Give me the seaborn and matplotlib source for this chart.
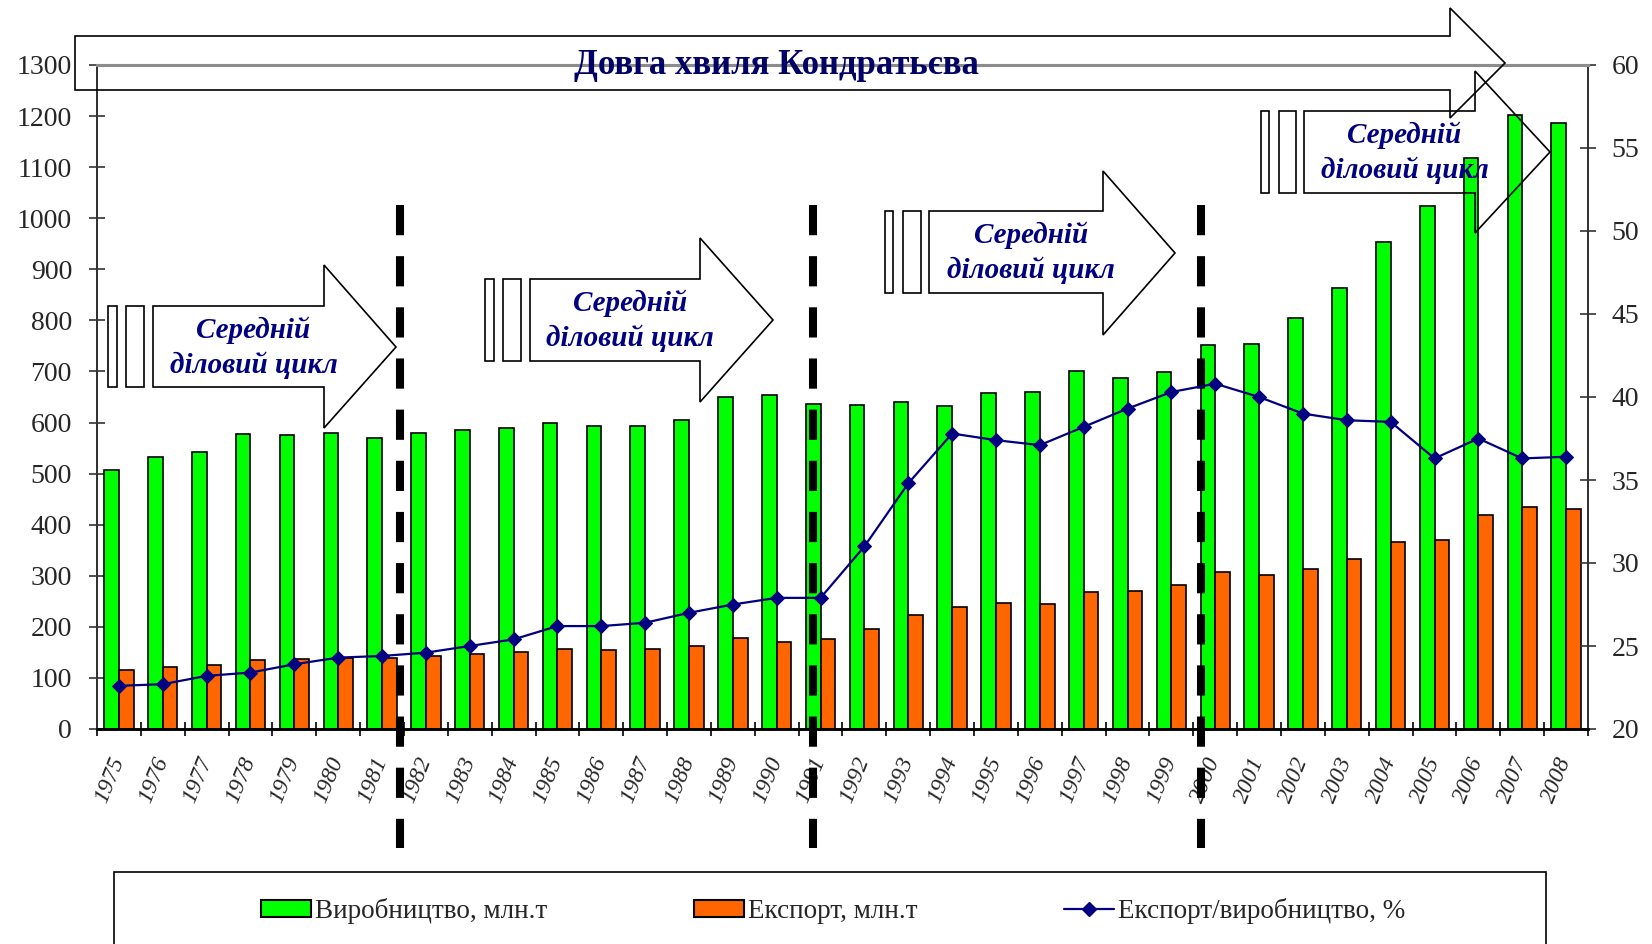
import numpy as np
import pandas as pd
import seaborn as sns
import matplotlib.pyplot as plt
from matplotlib.patches import Polygon, Rectangle, Patch
from matplotlib.lines import Line2D
from matplotlib.transforms import blended_transform_factory

sns.set_theme(style="white")
plt.rcParams['font.family'] = ['Liberation Serif', 'DejaVu Serif']

years = list(range(1975, 2009))
production = [507, 533, 542, 578, 576, 579, 569, 579, 585, 590,
              599, 593, 593, 605, 650, 654, 636, 634, 640, 632,
              658, 660, 701, 687, 698, 752, 754, 805, 864, 954,
              1024, 1118, 1202, 1186]
export = [115, 121, 126, 136, 138, 139, 139, 142, 147, 150,
          157, 155, 156, 163, 178, 171, 177, 196, 223, 239,
          246, 245, 268, 270, 281, 307, 301, 313, 333, 366,
          371, 418, 435, 431]
ratio = [22.6, 22.7, 23.2, 23.4, 23.9, 24.3, 24.4, 24.6, 25.0, 25.4,
         26.2, 26.2, 26.4, 27.0, 27.5, 27.9, 27.9, 31.0, 34.8, 37.8,
         37.4, 37.1, 38.2, 39.3, 40.3, 40.8, 40.0, 39.0, 38.6, 38.5,
         36.3, 37.5, 36.3, 36.4]

lbl_prod = 'Виробництво, млн.т'
lbl_exp = 'Експорт, млн.т'
lbl_ratio = 'Експорт/виробництво, %'
title = 'Довга хвиля Кондратьєва'
cycle_text = 'Середній\nділовий цикл'

green = '#00ff00'
orange = '#ff6600'
navy = '#000080'

# figure is laid out in pixels of the 1652x944 reference
W, H = 1652, 944


def fx(x):
    return x / W


def fy(y):
    return 1 - y / H


fig = plt.figure(figsize=(W / 100, H / 100), dpi=100)
ax = fig.add_axes([fx(97), fy(729), (1588 - 97) / W, (729 - 65) / H])

df = pd.DataFrame({'year': years * 2,
                   'value': production + export,
                   'series': [lbl_prod] * len(years) + [lbl_exp] * len(years)})
sns.barplot(data=df, x='year', y='value', hue='series', palette=[green, orange],
            saturation=1, width=0.67, gap=0, edgecolor='black', linewidth=1.2,
            legend=False, ax=ax)

ax2 = ax.twinx()
sns.lineplot(x=np.arange(len(years)), y=ratio, ax=ax2, color=navy, linewidth=1.6,
             marker='D', markersize=7, markeredgecolor=navy)

ax.set_xlim(-0.5, len(years) - 0.5)
ax.set_ylim(0, 1300)
ax.set_yticks(range(0, 1301, 100))
ax2.set_ylim(20, 60)
ax2.set_yticks(range(20, 61, 5))
for a in (ax, ax2):
    a.set_xlabel('')
    a.set_ylabel('')
    a.grid(False)
    a.spines['top'].set_color('#8c8c8c')
    a.spines['top'].set_linewidth(2.2)
    a.spines['left'].set_color('#333333')
    a.spines['right'].set_color('#333333')
    a.spines['left'].set_linewidth(1.4)
    a.spines['right'].set_linewidth(1.4)
    a.spines['bottom'].set_color('black')
    a.spines['bottom'].set_linewidth(1.8)

# tick marks between years, labels (minor ticks) next to them
ax.set_xticks(np.arange(-0.5, len(years), 1))
ax.set_xticklabels([])
ax.set_xticks(np.arange(len(years)) + 0.11, minor=True)
ax.set_xticklabels(years, minor=True, rotation=68, rotation_mode='anchor',
                   ha='right', va='baseline', fontstyle='italic', fontsize=17)
ax.tick_params(axis='x', which='major', direction='inout', length=10, width=1.2,
               color='black', bottom=True)
ax.tick_params(axis='x', which='minor', length=0, pad=22.5, bottom=True)
ax.tick_params(axis='y', direction='inout', length=12, width=1.2, color='#333333',
               labelsize=20, pad=12, left=True)
ax2.tick_params(axis='y', direction='inout', length=11, width=1.2, color='#333333',
                labelsize=20, pad=11.5, right=True)

# cycle borders
trans = blended_transform_factory(ax.transData, ax.transAxes)
for xb in [6.41, 15.83, 24.68]:
    ax.plot([xb, xb], [0.789, -0.179], transform=trans, color='black', lw=5.8,
            linestyle=(0, (3.75, 2.6)), clip_on=False, zorder=5)


def arrow(x0, xb, y0, y1, ht, hb, tip):
    pts = [(x0, y0), (xb, y0), (xb, ht), tip, (xb, hb), (xb, y1), (x0, y1)]
    fig.add_artist(Polygon([(fx(x), fy(y)) for x, y in pts], closed=True,
                           transform=fig.transFigure, fill=False,
                           edgecolor='black', lw=1.2))


def bars(xs, y0, y1):
    for a, b in xs:
        fig.add_artist(Rectangle((fx(a), fy(y1)), (b - a) / W, (y1 - y0) / H,
                                 transform=fig.transFigure, fill=False,
                                 edgecolor='black', lw=1.2))


# long wave arrow
arrow(75, 1450, 36, 90, 8, 118, (1505, 63))
fig.text(fx(776), fy(66), title, ha='center', va='center', fontsize=25,
         fontweight='bold', color='#000066')

# medium cycle arrows
cycles = [
    ((108, 117), (126, 144), 153, 324, 306, 387, 265, 428, (396, 347)),
    ((485, 494), (503, 521), 530, 700, 279, 361, 238, 402, (773, 320)),
    ((885, 893), (903, 921), 929, 1103, 211, 293, 171, 335, (1175, 253)),
    ((1261, 1269), (1279, 1296), 1304, 1475, 111, 193, 71, 233, (1550, 152)),
]
for r1, r2, x0, xb, y0, y1, ht, hb, tip in cycles:
    bars([r1, r2], y0, y1)
    arrow(x0, xb, y0, y1, ht, hb, tip)
    fig.text(fx((x0 + xb) / 2 + 15), fy((y0 + y1) / 2 + 1), cycle_text, ha='center',
             va='center', fontsize=21, fontweight='bold', fontstyle='italic',
             color=navy, linespacing=1.35, multialignment='center')

# legend
fig.add_artist(Rectangle((fx(114), fy(970)), (1546 - 114) / W, (970 - 872) / H,
                         transform=fig.transFigure, fill=False,
                         edgecolor='black', lw=1.2))
handles = [Patch(facecolor=green, edgecolor='black', lw=1.5),
           Patch(facecolor=orange, edgecolor='black', lw=1.5),
           Line2D([], [], color=navy, lw=1.6, marker='D', markersize=7)]
fig.legend(handles, [lbl_prod, lbl_exp, lbl_ratio], loc='center',
           bbox_to_anchor=(fx(833), fy(911)), ncol=3, frameon=False, fontsize=19.5,
           columnspacing=5.4, handlelength=1.85, handleheight=0.55,
           handletextpad=0.15)

fig.savefig('out.png', dpi=100)
